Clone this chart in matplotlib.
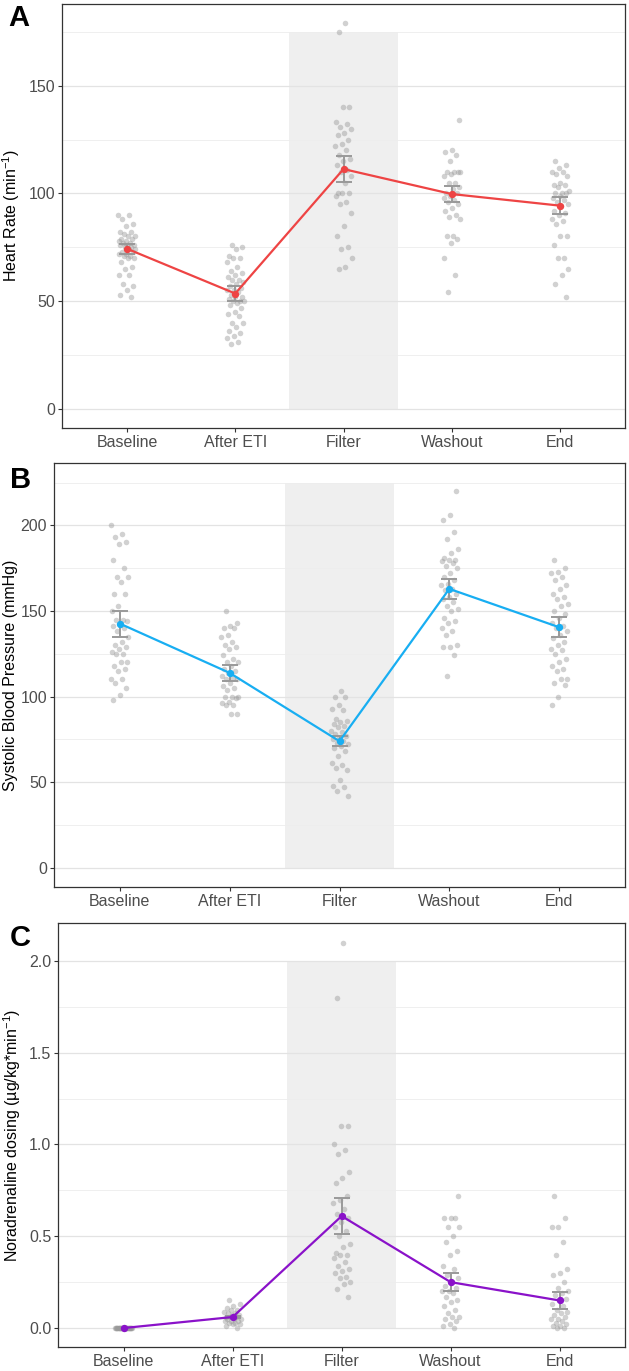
import numpy as np
import matplotlib.pyplot as plt
from matplotlib.ticker import FormatStrFormatter, MultipleLocator

plt.rcParams['font.family'] = ['Liberation Sans', 'DejaVu Sans']

timepoints = ["Baseline", "After ETI", "Filter", "Washout", "End"]

# Heart rate (min^-1), individual values
hr_baseline = [90, 90, 88, 86, 85, 82, 82, 81, 80, 80, 79, 79, 78, 78, 77, 77, 76, 76, 76, 75,
               75, 74, 74, 73, 73, 72, 72, 71, 71, 70, 70, 68, 66, 65, 62, 62, 58, 57, 55, 53, 52]
hr_after_eti = [76, 75, 74, 71, 70, 70, 68, 66, 64, 63, 62, 61, 60, 60, 59, 58, 57, 56, 55, 55,
                54, 53, 52, 52, 51, 50, 50, 50, 49, 48, 47, 45, 44, 43, 40, 40, 38, 36, 35, 34, 33, 31, 30]
hr_filter = [179, 175, 140, 140, 133, 132, 131, 130, 128, 127, 125, 123, 122, 120, 118, 116, 115, 113,
             111, 110, 108, 105, 100, 100, 100, 99, 96, 95, 91, 85, 80, 75, 74, 70, 66, 65]
hr_washout = [134, 120, 119, 118, 115, 110, 110, 110, 110, 109, 108, 105, 105, 103, 102, 100, 100,
              99, 98, 97, 96, 95, 93, 92, 90, 89, 88, 80, 80, 79, 77, 70, 62, 54]
hr_end = [115, 113, 112, 110, 110, 109, 108, 105, 104, 104, 103, 101, 100, 100, 100, 99, 98, 97,
          96, 95, 94, 92, 91, 90, 88, 87, 86, 80, 80, 76, 70, 70, 65, 62, 58, 52]
hr_mean = [74.3, 53.5, 111.3, 99.7, 94.3]
hr_se = [2.3, 3.3, 6.0, 3.8, 3.9]

# Systolic blood pressure (mmHg)
sbp_baseline = [200, 195, 193, 190, 189, 180, 175, 170, 170, 167, 160, 160, 153, 150, 145, 145, 144,
                142, 141, 140, 138, 135, 132, 130, 129, 128, 126, 125, 125, 120, 120, 118, 116, 115,
                110, 110, 108, 105, 101, 98]
sbp_after_eti = [150, 143, 141, 140, 140, 136, 135, 132, 130, 129, 128, 124, 122, 120, 120, 118, 116,
                 115, 114, 112, 111, 110, 110, 108, 106, 105, 104, 100, 100, 100, 99, 97, 96, 95, 95, 90, 90]
sbp_filter = [103, 100, 100, 95, 93, 92, 87, 86, 85, 84, 83, 82, 80, 79, 78, 77, 76, 75, 74, 73, 72,
              71, 70, 68, 65, 61, 60, 58, 57, 51, 48, 47, 45, 42]
sbp_washout = [220, 206, 203, 196, 192, 186, 184, 181, 180, 180, 179, 178, 176, 175, 172, 170, 168,
               166, 165, 163, 162, 160, 158, 157, 155, 153, 151, 150, 146, 144, 143, 140, 138, 136,
               130, 129, 129, 124, 112]
sbp_end = [180, 175, 173, 172, 170, 168, 165, 163, 160, 158, 157, 154, 153, 150, 148, 146, 143, 141,
           140, 138, 136, 134, 132, 130, 128, 127, 125, 122, 120, 118, 116, 115, 110, 110, 108, 107, 100, 95]
sbp_mean = [142.6, 113.8, 73.9, 162.9, 140.5]
sbp_se = [7.6, 4.5, 3.0, 6.0, 5.9]

# Noradrenaline dosing (ug/kg*min^-1)
na_baseline = [0.0] * 30
na_after_eti = [0.15, 0.13, 0.12, 0.11, 0.10, 0.10, 0.09, 0.08, 0.08, 0.07, 0.07, 0.06, 0.06, 0.06,
                0.05, 0.05, 0.05, 0.04, 0.04, 0.04, 0.03, 0.03, 0.02, 0.02, 0.01, 0.0]
na_filter = [2.1, 1.8, 1.1, 1.1, 1.0, 0.97, 0.95, 0.85, 0.82, 0.79, 0.72, 0.70, 0.68, 0.65, 0.62, 0.60,
             0.58, 0.55, 0.53, 0.50, 0.46, 0.44, 0.41, 0.40, 0.40, 0.38, 0.36, 0.34, 0.32, 0.31, 0.30,
             0.28, 0.27, 0.25, 0.24, 0.21, 0.17]
na_washout = [0.72, 0.60, 0.60, 0.60, 0.55, 0.55, 0.50, 0.47, 0.42, 0.40, 0.34, 0.32, 0.29, 0.27, 0.25,
              0.23, 0.22, 0.20, 0.20, 0.19, 0.17, 0.15, 0.14, 0.12, 0.10, 0.08, 0.06, 0.06, 0.05, 0.04,
              0.02, 0.01, 0.0]
na_end = [0.72, 0.60, 0.55, 0.55, 0.47, 0.40, 0.32, 0.30, 0.29, 0.25, 0.22, 0.20, 0.19, 0.18, 0.16,
          0.15, 0.13, 0.12, 0.10, 0.09, 0.08, 0.07, 0.06, 0.05, 0.05, 0.04, 0.03, 0.02, 0.01, 0.01, 0.0, 0.0]
na_mean = [0.0, 0.06, 0.61, 0.25, 0.15]
na_se = [0.0, 0.007, 0.097, 0.05, 0.044]


def draw_panel(ax, groups, means, ses, color, ylabel, ylim, yticks, minor_step,
               shade_top, fmt, label_x):
    x = np.arange(1, len(timepoints) + 1)
    ax.fill_between([2.5, 3.5], 0, shade_top, color='#EFEFEF', lw=0, zorder=0)
    for i, vals in enumerate(groups):
        vals = np.array(vals)
        # deterministic jitter (golden-ratio spread)
        off = ((np.arange(len(vals)) * 0.618034 + 0.3 * i) % 1 - 0.5) * 0.16
        ax.scatter(x[i] + off, vals, s=16, color='#999999', alpha=0.45, linewidths=0, zorder=2)
    ax.errorbar(x, means, yerr=ses, fmt='none', ecolor='#999999', elinewidth=1.4,
                capsize=5.8, capthick=1.4, zorder=3)
    ax.plot(x, means, color=color, lw=1.6, zorder=4)
    ax.scatter(x, means, s=28, color=color, zorder=5, linewidths=0)

    ax.set_xlim(0.4, 5.6)
    ax.set_ylim(*ylim)
    ax.set_xticks(x)
    ax.set_xticklabels(timepoints)
    ax.set_yticks(yticks)
    ax.yaxis.set_minor_locator(MultipleLocator(minor_step))
    ax.yaxis.set_major_formatter(FormatStrFormatter(fmt))
    ax.grid(axis='y', which='major', color='#E3E3E3', lw=0.9, zorder=1)
    ax.grid(axis='y', which='minor', color='#EDEDED', lw=0.6, zorder=1)
    ax.set_axisbelow(True)
    ax.tick_params(axis='both', which='major', labelsize=11.5, labelcolor='#4D4D4D',
                   color='#333333', length=3, width=0.8, pad=2)
    ax.tick_params(axis='y', which='minor', length=0)
    for sp in ax.spines.values():
        sp.set_color('#333333')
        sp.set_linewidth(0.9)
    ax.set_ylabel(ylabel, fontsize=11.5, color='black')
    ax.yaxis.set_label_coords(label_x, 0.5)


fig = plt.figure(figsize=(6.29, 13.71), dpi=100)
W, H = 629, 1371
ax_a = fig.add_axes([62 / W, 1 - 428 / H, 563 / W, 424 / H])
ax_b = fig.add_axes([54 / W, 1 - 887 / H, 571 / W, 423.7 / H])
ax_c = fig.add_axes([58.3 / W, 1 - 1347.3 / H, 566.7 / W, 424 / H])

draw_panel(ax_a, [hr_baseline, hr_after_eti, hr_filter, hr_washout, hr_end], hr_mean, hr_se,
           '#EE4444', 'Heart Rate (min$\\mathregular{^{-1}}$)', (-8.95, 187.95),
           [0, 50, 100, 150], 25, 175, '%d', -0.071)
draw_panel(ax_b, [sbp_baseline, sbp_after_eti, sbp_filter, sbp_washout, sbp_end], sbp_mean, sbp_se,
           '#18AEF2', 'Systolic Blood Pressure (mmHg)', (-11.25, 236.25),
           [0, 50, 100, 150, 200], 25, 225, '%d', -0.063)
draw_panel(ax_c, [na_baseline, na_after_eti, na_filter, na_washout, na_end], na_mean, na_se,
           '#8A12C9', 'Noradrenaline dosing (µg/kg*min$\\mathregular{^{-1}}$)', (-0.105, 2.205),
           [0.0, 0.5, 1.0, 1.5, 2.0], 0.25, 2.0, '%.1f', -0.062)

fig.text(8 / W, 1 - 4.5 / H, 'A', fontsize=21, fontweight='bold', va='top', ha='left')
fig.text(10 / W, 1 - 465.5 / H, 'B', fontsize=21, fontweight='bold', va='top', ha='left')
fig.text(10 / W, 1 - 924.5 / H, 'C', fontsize=21, fontweight='bold', va='top', ha='left')

fig.savefig('out.png', dpi=100)
